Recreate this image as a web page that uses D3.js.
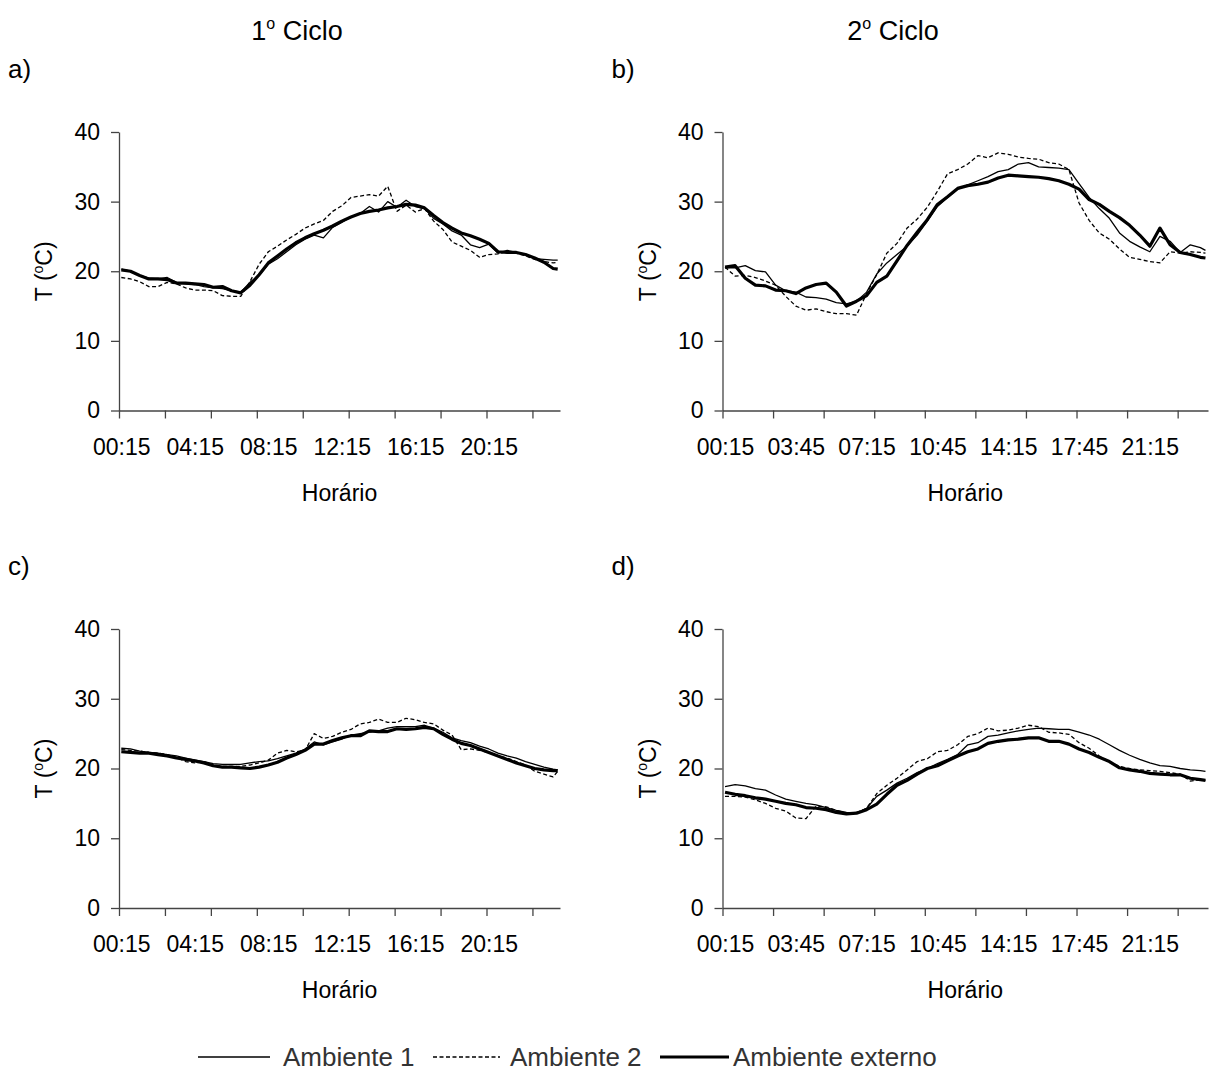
<!DOCTYPE html>
<html>
<head>
<meta charset="utf-8">
<script src="https://cdn.jsdelivr.net/npm/d3@7"></script>
<style>
  body { margin: 0; background: #fff; }
  svg { display: block; font-family: "Liberation Sans", Arial, sans-serif; }
</style>
</head>
<body>
<svg id="svg" width="1209" height="1077"></svg>
<script>
// readings every 30 min from 00:15, plus a last one at 00:00
const times = d3.range(0.25, 24, 0.5).concat([24]);

const labelsCiclo1 = ["00:15", "04:15", "08:15", "12:15", "16:15", "20:15"];
const labelsCiclo2 = ["00:15", "03:45", "07:15", "10:45", "14:15", "17:45", "21:15"];
const yTicks = [0, 10, 20, 30, 40];

// a) 1o ciclo
const a_amb1 = [20.3, 20.0, 19.4, 19.0, 18.9, 19.1, 18.4, 18.2, 18.1, 17.8,
  17.6, 17.5, 17.2, 17.0, 18.4, 19.4, 21.0, 21.8, 22.8, 23.8,
  24.6, 25.2, 24.8, 26.3, 27.0, 27.8, 28.3, 29.3, 28.5, 30.0,
  29.2, 30.2, 29.3, 29.0, 27.6, 26.8, 25.8, 25.2, 23.8, 23.4,
  23.9, 22.6, 23.0, 22.7, 22.3, 21.8, 21.7, 21.6, 21.6];
const a_amb2 = [19.1, 18.9, 18.5, 17.8, 17.8, 18.4, 18.2, 17.6, 17.3, 17.3,
  17.2, 16.5, 16.4, 16.4, 18.5, 21.0, 22.8, 23.6, 24.5, 25.3,
  26.2, 26.8, 27.3, 28.6, 29.4, 30.6, 30.8, 31.0, 30.8, 32.2,
  28.6, 29.5, 28.5, 29.0, 27.2, 26.0, 24.2, 23.6, 23.0, 22.0,
  22.4, 22.5, 22.8, 22.6, 22.2, 21.7, 21.4, 21.2, 21.3];
const a_ext = [20.2, 20.0, 19.4, 18.9, 18.9, 18.8, 18.3, 18.3, 18.2, 18.1,
  17.7, 17.8, 17.2, 16.9, 18.0, 19.5, 21.2, 22.2, 23.2, 24.1,
  24.8, 25.4, 25.9, 26.5, 27.2, 27.8, 28.3, 28.6, 28.8, 29.1,
  29.3, 29.6, 29.5, 29.1, 28.0, 27.0, 26.2, 25.5, 25.1, 24.6,
  24.0, 22.8, 22.7, 22.7, 22.4, 21.9, 21.3, 20.4, 20.3];

// b) 2o ciclo
const b_amb1 = [20.5, 20.5, 20.8, 20.1, 19.9, 18.0, 17.2, 17.0, 16.3, 16.2,
  16.0, 15.5, 15.3, 15.7, 17.0, 19.6, 21.2, 22.4, 23.6, 25.2,
  27.2, 29.3, 30.6, 31.8, 32.4, 33.0, 33.6, 34.3, 34.6, 35.4,
  35.6, 35.0, 34.9, 34.8, 34.6, 32.6, 30.6, 29.0, 27.6, 25.5,
  24.3, 23.5, 22.8, 25.0, 24.3, 22.7, 23.8, 23.4, 23.0];
const b_amb2 = [20.6, 19.3, 19.4, 19.1, 18.6, 18.0, 16.4, 15.0, 14.4, 14.6,
  14.2, 13.9, 13.9, 13.7, 16.8, 19.5, 22.6, 24.0, 26.2, 27.5,
  29.2, 31.5, 34.0, 34.6, 35.4, 36.6, 36.3, 37.0, 36.8, 36.4,
  36.2, 36.1, 35.6, 35.4, 34.6, 29.8, 27.3, 25.5, 24.6, 23.2,
  22.0, 21.7, 21.4, 21.2, 22.8, 22.6, 22.8, 22.7, 22.6];
const b_ext = [20.6, 20.8, 19.0, 18.0, 17.9, 17.3, 17.2, 16.8, 17.6, 18.1,
  18.3, 17.0, 15.0, 15.7, 16.5, 18.4, 19.3, 21.5, 23.7, 25.6,
  27.4, 29.6, 30.7, 31.9, 32.3, 32.5, 32.8, 33.4, 33.8, 33.7,
  33.6, 33.5, 33.3, 33.0, 32.5, 31.8, 30.3, 29.6, 28.6, 27.7,
  26.6, 25.2, 23.6, 26.2, 23.8, 22.7, 22.4, 22.0, 21.9];

// c) 1o ciclo
const c_amb1 = [22.9, 22.8, 22.5, 22.3, 22.2, 22.0, 21.8, 21.5, 21.2, 21.0,
  20.7, 20.6, 20.6, 20.6, 20.8, 21.0, 21.1, 21.4, 21.8, 22.2,
  22.8, 23.8, 23.4, 23.8, 24.2, 24.8, 25.0, 25.2, 25.4, 25.8,
  26.0, 26.0, 26.0, 26.2, 25.8, 25.2, 24.4, 24.0, 23.7, 23.2,
  22.8, 22.2, 21.8, 21.5, 21.0, 20.6, 20.2, 19.9, 19.8];
const c_amb2 = [22.7, 22.6, 22.5, 22.3, 22.2, 22.0, 21.6, 21.0, 20.8, 21.0,
  20.5, 20.3, 20.3, 20.3, 20.5, 20.8, 21.2, 22.2, 22.6, 22.4,
  22.6, 25.0, 24.3, 24.6, 25.2, 25.6, 26.4, 26.6, 27.1, 26.6,
  26.6, 27.2, 27.0, 26.6, 26.4, 25.5, 24.8, 22.7, 22.8, 22.6,
  22.3, 21.8, 21.5, 21.0, 20.5, 19.6, 19.2, 18.8, 19.6];
const c_ext = [22.4, 22.3, 22.2, 22.2, 22.0, 21.8, 21.5, 21.3, 21.1, 20.8,
  20.4, 20.2, 20.2, 20.1, 20.0, 20.2, 20.5, 20.9, 21.5, 22.0,
  22.6, 23.5, 23.5, 24.0, 24.4, 24.7, 24.7, 25.4, 25.3, 25.3,
  25.7, 25.6, 25.7, 25.9, 25.7, 24.9, 24.2, 23.6, 23.3, 22.8,
  22.3, 21.8, 21.3, 20.8, 20.4, 20.0, 19.8, 19.7, 19.7];

// d) 2o ciclo
const d_amb1 = [17.4, 17.7, 17.5, 17.1, 16.9, 16.2, 15.6, 15.3, 15.0, 14.8,
  14.4, 14.0, 13.7, 13.6, 14.3, 16.0, 16.9, 17.9, 18.6, 19.4,
  20.0, 20.7, 21.3, 22.0, 23.4, 23.7, 24.6, 24.8, 25.1, 25.4,
  25.6, 25.8, 25.7, 25.6, 25.6, 25.2, 24.8, 24.2, 23.4, 22.6,
  21.9, 21.3, 20.8, 20.4, 20.3, 20.0, 19.8, 19.7, 19.6];
const d_amb2 = [16.0, 16.0, 15.9, 15.5, 15.0, 14.3, 13.9, 12.9, 12.8, 14.6,
  14.5, 14.0, 13.6, 13.7, 14.3, 16.4, 17.6, 18.6, 19.8, 21.0,
  21.4, 22.4, 22.6, 23.4, 24.6, 25.0, 25.8, 25.4, 25.5, 25.8,
  26.2, 26.0, 25.2, 25.1, 24.9, 23.7, 22.9, 21.8, 21.0, 20.3,
  20.0, 19.8, 19.7, 19.6, 19.4, 19.2, 18.2, 18.4, 18.3];
const d_ext = [16.6, 16.3, 16.1, 15.8, 15.6, 15.3, 15.0, 14.8, 14.4, 14.3,
  14.1, 13.7, 13.5, 13.6, 14.1, 14.9, 16.3, 17.6, 18.3, 19.2,
  20.0, 20.4, 21.1, 21.8, 22.4, 22.8, 23.6, 23.9, 24.1, 24.2,
  24.4, 24.4, 23.9, 23.9, 23.5, 22.8, 22.3, 21.6, 21.0, 20.1,
  19.8, 19.6, 19.3, 19.2, 19.1, 19.1, 18.6, 18.4, 18.3];

const seriesNames = ["Ambiente 1", "Ambiente 2", "Ambiente externo"];

const svg = d3.select("#svg");
const font = '"Liberation Sans", Arial, sans-serif';
const styles = [
  { width: 1.3, dash: null },
  { width: 1.3, dash: "4,2.5" },
  { width: 3.2, dash: null }
];

const toHours = s => +s.slice(0, 2) + +s.slice(3) / 60;

const panels = [
  { tag: "a)", left: 119, right: 560, top: 132, bottom: 410.5, labels: labelsCiclo1, data: [a_amb1, a_amb2, a_ext] },
  { tag: "b)", left: 722.5, right: 1208, top: 132, bottom: 410.5, labels: labelsCiclo2, data: [b_amb1, b_amb2, b_ext] },
  { tag: "c)", left: 119, right: 560, top: 629, bottom: 908, labels: labelsCiclo1, data: [c_amb1, c_amb2, c_ext] },
  { tag: "d)", left: 722.5, right: 1208, top: 629, bottom: 908, labels: labelsCiclo2, data: [d_amb1, d_amb2, d_ext] }
];

// column titles
[["1", 297], ["2", 893]].forEach(([n, cx]) => {
  const t = svg.append("text")
    .attr("x", cx).attr("y", 40)
    .attr("text-anchor", "middle")
    .attr("font-size", 27);
  t.append("tspan").text(n);
  t.append("tspan").attr("font-size", 16).attr("dy", -11).text("o");
  t.append("tspan").attr("dy", 11).text(" Ciclo");
});

panels.forEach(p => {
  const g = svg.append("g");
  // 96 quarter-hour categories, 00:15 ... 24:00
  const x = d3.scaleLinear().domain([0.125, 24.125]).range([p.left, p.right]);
  const y = d3.scaleLinear().domain([0, 40]).range([p.bottom, p.top]);

  // panel tag
  g.append("text")
    .attr("x", p.left - 111)
    .attr("y", p.top - 54)
    .attr("font-size", 26)
    .text(p.tag);

  // y axis
  const yAxis = g.append("g")
    .attr("transform", `translate(${p.left},0)`)
    .call(d3.axisLeft(y).tickValues(yTicks).tickSize(8).tickSizeOuter(0).tickPadding(11));
  yAxis.select(".domain").attr("stroke", "#444").attr("stroke-width", 1.3);
  yAxis.selectAll(".tick line").attr("stroke", "#444").attr("stroke-width", 1.3);
  yAxis.selectAll(".tick text").attr("font-size", 23).attr("font-family", font).attr("fill", "#000");

  // x axis: tick marks every 10 categories
  const xAxis = g.append("g")
    .attr("transform", `translate(0,${p.bottom})`)
    .call(d3.axisBottom(x)
      .tickValues(d3.range(10).map(k => 0.125 + 2.5 * k))
      .tickSize(8).tickSizeOuter(0).tickFormat(""));
  xAxis.select(".domain").attr("stroke", "#444").attr("stroke-width", 1.3);
  xAxis.selectAll(".tick line").attr("stroke", "#444").attr("stroke-width", 1.3);

  // x labels
  const xLab = g.append("g")
    .attr("transform", `translate(0,${p.bottom})`)
    .call(d3.axisBottom(x)
      .tickValues(p.labels.map(toHours))
      .tickSize(0).tickPadding(28)
      .tickFormat((d, i) => p.labels[i]));
  xLab.select(".domain").remove();
  xLab.selectAll(".tick text").attr("font-size", 23).attr("font-family", font).attr("fill", "#000");

  // axis titles
  g.append("text")
    .attr("x", (p.left + p.right) / 2)
    .attr("y", p.bottom + 90)
    .attr("text-anchor", "middle")
    .attr("font-size", 23)
    .text("Horário");

  const yt = g.append("text")
    .attr("transform", `translate(${p.left - 67},${(p.top + p.bottom) / 2}) rotate(-90)`)
    .attr("text-anchor", "middle")
    .attr("font-size", 23);
  yt.append("tspan").text("T (");
  yt.append("tspan").attr("font-size", 14).attr("dy", -9).text("o");
  yt.append("tspan").attr("dy", 9).text("C)");

  // lines
  const line = d3.line()
    .x((d, i) => x(times[i]))
    .y(d => y(d));

  p.data.forEach((vals, s) => {
    g.append("path")
      .datum(vals)
      .attr("d", line)
      .attr("fill", "none")
      .attr("stroke", "#000")
      .attr("stroke-width", styles[s].width)
      .attr("stroke-dasharray", styles[s].dash)
      .attr("stroke-linejoin", "round");
  });
});

// legend
const legendItems = [
  { x1: 198, x2: 270, tx: 283 },
  { x1: 433, x2: 500, tx: 510 },
  { x1: 660, x2: 729, tx: 733 }
];
const legend = svg.append("g").attr("transform", "translate(0,1057)");
legendItems.forEach((it, s) => {
  legend.append("line")
    .attr("x1", it.x1).attr("x2", it.x2)
    .attr("stroke", "#000")
    .attr("stroke-width", styles[s].width)
    .attr("stroke-dasharray", styles[s].dash);
  legend.append("text")
    .attr("x", it.tx).attr("dy", "0.35em")
    .attr("font-size", 26)
    .attr("fill", "#333")
    .text(seriesNames[s]);
});
</script>
</body>
</html>
